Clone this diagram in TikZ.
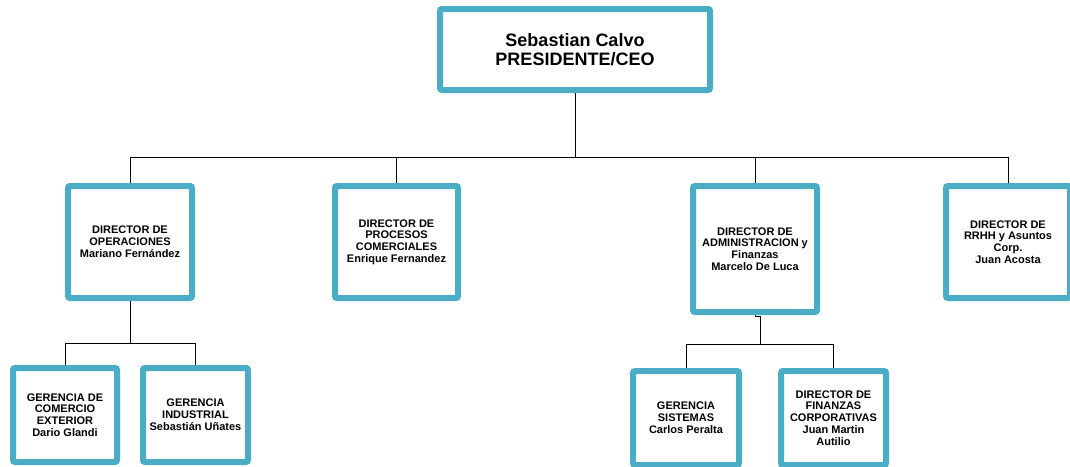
\documentclass[tikz,border=0pt]{standalone}
\usepackage{fontspec}
\setmainfont{Liberation Sans}
\definecolor{boxblue}{RGB}{75,172,198}
\tikzset{
  orgbox/.style={draw=boxblue, line width=6pt, rounded corners=2pt, fill=white,
    align=center, inner sep=0pt,
    font=\bfseries\fontsize{11}{11.8}\selectfont},
  ceobox/.style={orgbox, font=\bfseries\fontsize{18}{19}\selectfont},
  conn/.style={draw=black, line width=0.9pt},
}
\begin{document}
\begin{tikzpicture}[x=1pt,y=-1pt]
\clip (0,0) rectangle (1070,466);
\fill[white] (0,0) rectangle (1070,466);
\coordinate (busC) at (575,157);
\coordinate (busL) at (130,157);
\coordinate (busR) at (1008,157);
\coordinate (opsB) at (130,343);
\coordinate (opsL) at (65,343);
\coordinate (opsR) at (195.5,343);
\coordinate (admB) at (760,344);
\coordinate (admL) at (686,344);
\coordinate (admR) at (833.5,344);

\node[ceobox, minimum width=270pt, minimum height=81pt] (ceo) at (575,49.5)
  {Sebastian Calvo\\PRESIDENTE/CEO};
\node[orgbox, minimum width=124pt, minimum height=112pt] (d1) at (130,242)
  {DIRECTOR DE\\OPERACIONES\\Mariano Fernández};
\node[orgbox, minimum width=123pt, minimum height=112pt] (d2) at (396.5,242)
  {DIRECTOR DE\\PROCESOS\\COMERCIALES\\Enrique Fernandez};
\node[orgbox, minimum width=124pt, minimum height=126pt] (d3) at (755,249)
  {DIRECTOR DE\\ADMINISTRACION y\\Finanzas\\Marcelo De Luca};
\node[orgbox, minimum width=124pt, minimum height=112pt] (d4) at (1008,242)
  {DIRECTOR DE\\RRHH y Asuntos\\Corp.\\Juan Acosta};
\node[orgbox, minimum width=104pt, minimum height=94pt] (g1) at (65,415)
  {GERENCIA DE\\COMERCIO\\EXTERIOR\\Dario Glandi};
\node[orgbox, minimum width=105pt, minimum height=94pt] (g2) at (195.5,415)
  {GERENCIA\\INDUSTRIAL\\Sebastián Uñates};
\node[orgbox, minimum width=106pt, minimum height=94pt] (g3) at (686,418)
  {GERENCIA\\SISTEMAS\\Carlos Peralta};
\node[orgbox, minimum width=105pt, minimum height=94pt] (g4) at (833.5,418)
  {DIRECTOR DE\\FINANZAS\\CORPORATIVAS\\Juan Martin\\Autilio};

\draw[conn] (ceo.south) -- (busC);
\draw[conn] (busL) -- (busR);
\draw[conn] (d1.north) -- (busL);
\draw[conn] (d2.north) -- (d2.north |- busC);
\draw[conn] (d3.north) -- (d3.north |- busC);
\draw[conn] (d4.north) -- (busR);

\draw[conn] (d1.south) -- (opsB);
\draw[conn] (opsL) -- (opsR);
\draw[conn] (g1.north) -- (opsL);
\draw[conn] (g2.north) -- (opsR);

\draw[conn] (d3.south) -- ++(0,1.5) -| (admB);
\draw[conn] (admL) -- (admR);
\draw[conn] (g3.north) -- (admL);
\draw[conn] (g4.north) -- (admR);
\end{tikzpicture}
\end{document}
